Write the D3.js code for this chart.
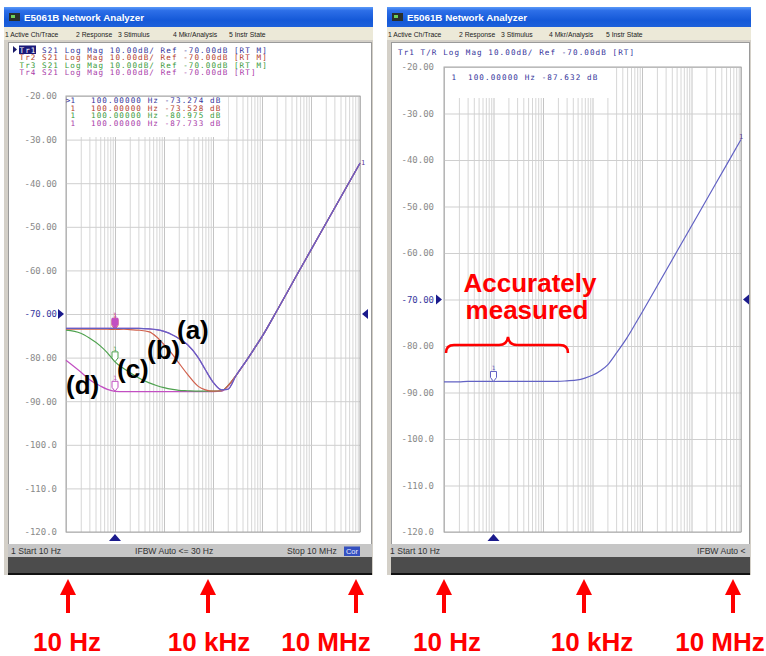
<!DOCTYPE html>
<html>
<head>
<meta charset="utf-8">
<script src="https://cdn.jsdelivr.net/npm/d3@7"></script>
<style>
body { margin: 0; background: #fff; }
text { font-family: "Liberation Sans", Arial, sans-serif; }
.mono { font-family: "DejaVu Sans Mono", "Liberation Mono", monospace; }
</style>
</head>
<body>
<svg id="chart" width="766" height="656"></svg>
<script>
// Frequency points (Hz)
const freqs = [10, 20, 30, 50, 70, 100, 150, 200, 300, 500, 700, 1e3, 1.5e3, 2e3, 3e3, 5e3, 7e3,
  1e4, 1.5e4, 2e4, 3e4, 5e4, 7e4, 1e5, 2e5, 5e5, 1e6, 2e6, 5e6, 1e7];

// Left screen, S21 traces (dB)
const traceA = [-73.3, -73.3, -73.3, -73.3, -73.3, -73.27, -73.3, -73.3, -73.3, -73.4, -73.6, -74.0, -74.8, -75.6, -77.0, -80.0, -82.8,
  -85.6, -87.4, -87.3, -84.0, -80.4, -77.9, -75.2, -69.3, -61.3, -55.3, -49.3, -41.4, -35.4];
const traceB = [-73.5, -73.5, -73.5, -73.5, -73.5, -73.53, -73.5, -73.6, -73.7, -74.1, -75.2, -77.0, -79.3, -81.2, -83.8, -86.6, -87.4,
  -87.7, -87.6, -86.5, -84.0, -80.4, -77.9, -75.2, -69.3, -61.3, -55.3, -49.3, -41.4, -35.4];
const traceC = [-73.7, -74.4, -75.5, -77.3, -78.9, -80.98, -82.5, -83.4, -84.6, -85.8, -86.4, -86.9, -87.3, -87.5, -87.6, -87.7, -87.7,
  -87.7, -87.6, -86.5, -84.0, -80.4, -77.9, -75.2, -69.3, -61.3, -55.3, -49.3, -41.4, -35.4];
const traceD = [-80.6, -83.3, -85.0, -86.5, -87.3, -87.73, -87.8, -87.8, -87.8, -87.8, -87.8, -87.8, -87.8, -87.8, -87.8, -87.8, -87.8,
  -87.8, -87.7, -86.6, -84.0, -80.4, -77.9, -75.2, -69.3, -61.3, -55.3, -49.3, -41.4, -35.4];

// Right screen, T/R trace (dB)
const traceR = [-87.7, -87.7, -87.6, -87.6, -87.6, -87.63, -87.6, -87.6, -87.6, -87.6, -87.6, -87.6, -87.6, -87.6, -87.5, -87.3, -86.9,
  -86.3, -85.2, -84.1, -81.6, -78.2, -75.6, -72.8, -67.2, -59.8, -54.2, -48.6, -41.2, -35.6];

const yTicks = [-20, -30, -40, -50, -60, -70, -80, -90, -100, -110, -120];
const yTickLabels = ["-20.00", "-30.00", "-40.00", "-50.00", "-60.00", "-70.00", "-80.00", "-90.00", "-100.0", "-110.0", "-120.0"];
const menuItems = ["1 Active Ch/Trace", "2 Response", "3 Stimulus", "4 Mkr/Analysis", "5 Instr State"];
const traceNames = ["Tr1", "Tr2", "Tr3", "Tr4"];
const leftHeader = [" S21 Log Mag 10.00dB/ Ref -70.00dB [RT M]", " S21 Log Mag 10.00dB/ Ref -70.00dB [RT M]",
  " S21 Log Mag 10.00dB/ Ref -70.00dB [RT M]", " S21 Log Mag 10.00dB/ Ref -70.00dB [RT]"];
const leftMarkers = [">1", "1", "1", "1"];
const leftMarkerVals = ["100.00000 Hz -73.274 dB", "100.00000 Hz -73.528 dB", "100.00000 Hz -80.975 dB", "100.00000 Hz -87.733 dB"];
const freqLabels = ["10 Hz", "10 kHz", "10 MHz"];

const traceColors = ["#6262c4", "#d0604c", "#4fa24f", "#c24fc2"];
const textColors = ["#33339a", "#b23a2a", "#3a9a3a", "#a83aa8"];
const monoSize = 7.6;
const charW = 5.62; // screen font pitch

const svg = d3.select("#chart");
const defs = svg.append("defs");
const grad = defs.append("linearGradient").attr("id", "tb")
  .attr("x1", 0).attr("y1", 0).attr("x2", 0).attr("y2", 1);
grad.append("stop").attr("offset", "0%").attr("stop-color", "#5a9af8");
grad.append("stop").attr("offset", "18%").attr("stop-color", "#2d6fe8");
grad.append("stop").attr("offset", "65%").attr("stop-color", "#1559d8");
grad.append("stop").attr("offset", "100%").attr("stop-color", "#1d60da");

// monospaced screen text, stretched to the analyzer's pitch
function mono(g, x, y, str, color) {
  return g.append("text").attr("class", "mono").attr("x", x).attr("y", y)
    .attr("font-size", monoSize).attr("fill", color)
    .attr("textLength", str.length * charW).attr("lengthAdjust", "spacing")
    .text(str);
}

// draw the analyzer window chrome
function drawWindow(w) {
  const g = svg.append("g");
  const wd = w.x1 - w.x0;
  g.append("rect").attr("x", w.x0).attr("y", 7).attr("width", wd).attr("height", 20).attr("fill", "url(#tb)");
  g.append("rect").attr("x", w.x0 + 5).attr("y", 13).attr("width", 11).attr("height", 8).attr("fill", "#2a2f2a");
  g.append("rect").attr("x", w.x0 + 7).attr("y", 15).attr("width", 4).attr("height", 3).attr("fill", "#6ccf5a");
  g.append("text").attr("x", w.x0 + 20).attr("y", 21).attr("fill", "#fff")
    .attr("font-weight", "bold").attr("font-size", 9.8).text("E5061B Network Analyzer");

  g.append("rect").attr("x", w.x0).attr("y", 27).attr("width", wd).attr("height", 13).attr("fill", "#ece9d8");
  g.selectAll(".menu").data(menuItems).join("text")
    .attr("x", (d, i) => w.x0 + w.menuX[i]).attr("y", 36.5)
    .attr("font-size", 6.8).attr("fill", "#222").text(d => d);

  g.append("rect").attr("x", w.x0).attr("y", 40).attr("width", wd).attr("height", 535).attr("fill", "#d4d0c8");
  g.append("rect").attr("x", w.x0 + 4.5).attr("y", 42.5).attr("width", wd - 6).attr("height", 502)
    .attr("fill", "#fff").attr("stroke", "#9a9a9a");
  g.append("rect").attr("x", w.x0 + 4).attr("y", 544).attr("width", wd - 5).attr("height", 13).attr("fill", "#c6c6c6");
  g.append("rect").attr("x", w.x0 + 4).attr("y", 557).attr("width", wd - 5).attr("height", 17).attr("fill", "#4c4c4c");
  g.append("rect").attr("x", w.x0 + 4).attr("y", 573).attr("width", wd - 5).attr("height", 2).attr("fill", "#111");
  return g;
}

// draw one measurement screen
function drawScreen(w) {
  const g = svg.append("g");
  const x = d3.scaleLog().domain([10, 1e7]).range([w.l, w.r]);
  const y = d3.scaleLinear().domain([-120, -20]).range([w.b, w.t]);

  // vertical log grid
  g.append("g").attr("transform", `translate(0,${w.b})`)
    .call(d3.axisBottom(x).tickValues(x.ticks()).tickSize(-(w.b - w.t)).tickFormat(""))
    .call(a => a.select(".domain").remove())
    .call(a => a.selectAll("line").attr("stroke", d => Math.log10(d) % 1 === 0 ? "#c4c4c4" : "#d6d6d6").attr("stroke-width", 1));

  // horizontal grid
  g.append("g").attr("transform", `translate(${w.l},0)`)
    .call(d3.axisLeft(y).tickValues(yTicks).tickSize(-(w.r - w.l)).tickFormat(""))
    .call(a => a.select(".domain").remove())
    .call(a => a.selectAll("line").attr("stroke", "#cfcfcf"));

  g.append("rect").attr("x", w.l).attr("y", w.t).attr("width", w.r - w.l).attr("height", w.b - w.t)
    .attr("fill", "none").attr("stroke", "#a8a8a8");

  // y labels
  g.append("g").attr("transform", `translate(${w.l},0)`)
    .call(d3.axisLeft(y).tickValues(yTicks).tickSize(0).tickPadding(w.pad).tickFormat((d, i) => yTickLabels[i]))
    .call(a => a.select(".domain").remove())
    .call(a => a.selectAll("text").attr("class", "mono").attr("font-size", 9)
      .attr("fill", d => d === -70 ? "#3a3aa0" : "#8a8a8a"));

  // reference triangles
  const yr = y(-70);
  g.append("path").attr("d", `M${w.l - 8},${yr - 5}L${w.l - 2},${yr}L${w.l - 8},${yr + 5}Z`).attr("fill", "#1a1a8c");
  g.append("path").attr("d", `M${w.r + 8},${yr - 5}L${w.r + 2},${yr}L${w.r + 8},${yr + 5}Z`).attr("fill", "#1a1a8c");
  // stimulus marker
  const xm = x(100);
  g.append("path").attr("d", `M${xm - 6},${w.b + 9}L${xm},${w.b + 2}L${xm + 6},${w.b + 9}Z`).attr("fill", "#1a1a8c");

  return {g, x, y};
}

const line = (x, y, vals) => d3.line().x((d, i) => x(freqs[i])).y(d => y(d)).curve(d3.curveMonotoneX)(vals);

function drawTrace(s, vals, color, filled) {
  s.g.append("path").attr("d", line(s.x, s.y, vals)).attr("fill", "none")
    .attr("stroke", color).attr("stroke-width", 1.2);
  const mx = s.x(freqs[5]), my = s.y(vals[5]);
  s.g.append("path").attr("d", `M${mx},${my}L${mx - 3},${my - 4}L${mx - 3},${my - 10}L${mx + 3},${my - 10}L${mx + 3},${my - 4}Z`)
    .attr("fill", filled ? color : "#fff").attr("stroke", color).attr("stroke-width", 1);
  s.g.append("text").attr("class", "mono").attr("x", mx).attr("y", my - 11).attr("text-anchor", "middle")
    .attr("font-size", 6).attr("fill", color).text("1");
}

// ---------- left window ----------
const wl = drawWindow({x0: 4, x1: 373, menuX: [1, 72, 114, 169, 225]});
const sl = drawScreen({l: 66, r: 360, t: 96, b: 532, pad: 9});

// marker table
sl.g.append("rect").attr("x", 67).attr("y", 97).attr("width", 161).attr("height", 40).attr("fill", "#fff");
leftMarkerVals.forEach((v, i) => {
  const yy = 103 + i * 7.7;
  sl.g.append("text").attr("class", "mono").attr("x", 75).attr("y", yy).attr("text-anchor", "end")
    .attr("font-size", monoSize).attr("fill", textColors[i]).text(leftMarkers[i]);
  mono(sl.g, 91, yy, v, textColors[i]);
});

// header lines; active trace name shown inverted
wl.append("path").attr("d", "M13,46L17,49.5L13,53Z").attr("fill", "#1a1a6a");
wl.append("rect").attr("x", 19).attr("y", 45.5).attr("width", 17).attr("height", 8.5).attr("fill", "#1a1a7a");
leftHeader.forEach((t, i) => {
  const full = traceNames[i] + t;
  const tx = wl.append("text").attr("class", "mono").attr("x", 19.5).attr("y", 53 + i * 7.3)
    .attr("font-size", monoSize).attr("fill", textColors[i])
    .attr("textLength", full.length * charW).attr("lengthAdjust", "spacing");
  tx.append("tspan").attr("fill", i === 0 ? "#fff" : textColors[i]).text(traceNames[i]);
  tx.append("tspan").text(t);
});

// traces, drawn back to front
drawTrace(sl, traceD, traceColors[3], false);
drawTrace(sl, traceC, traceColors[2], false);
drawTrace(sl, traceB, traceColors[1], false);
drawTrace(sl, traceA, traceColors[3], true);
sl.g.append("path").attr("d", line(sl.x, sl.y, traceA)).attr("fill", "none")
  .attr("stroke", traceColors[0]).attr("stroke-width", 1.2);
sl.g.append("text").attr("class", "mono").attr("x", sl.x(1e7) + 1).attr("y", sl.y(traceA[29]) + 2)
  .attr("font-size", 7).attr("fill", "#5a3a9a").text("1");

// status bar
wl.append("text").attr("x", 11).attr("y", 554).attr("font-size", 8.6).attr("fill", "#333").text("1  Start 10 Hz");
wl.append("text").attr("x", 135).attr("y", 554).attr("font-size", 8.6).attr("fill", "#333").text("IFBW Auto <= 30 Hz");
wl.append("text").attr("x", 287).attr("y", 554).attr("font-size", 8.6).attr("fill", "#333").text("Stop 10 MHz");
wl.append("rect").attr("x", 344).attr("y", 546.5).attr("width", 16).attr("height", 9.5).attr("fill", "#3450c0");
wl.append("text").attr("x", 352).attr("y", 554).attr("text-anchor", "middle").attr("font-size", 7.5).attr("fill", "#e8ecff").text("Cor");

// (a)-(d) labels
const labelPos = [[177, 339], [147, 359], [117, 378], [66, 394]];
["(a)", "(b)", "(c)", "(d)"].forEach((t, i) => {
  svg.append("text").attr("x", labelPos[i][0]).attr("y", labelPos[i][1])
    .attr("font-size", 26).attr("font-weight", "bold").attr("fill", "#000").text(t);
});

// ---------- right window ----------
const wr = drawWindow({x0: 387, x1: 751, menuX: [1, 72, 114, 162, 219]});
const sr = drawScreen({l: 444, r: 741, t: 67, b: 532, pad: 10});

sr.g.append("rect").attr("x", 445).attr("y", 68).attr("width", 166).attr("height", 30).attr("fill", "#fff");
sr.g.append("text").attr("class", "mono").attr("x", 456).attr("y", 80).attr("text-anchor", "end")
  .attr("font-size", monoSize).attr("fill", textColors[0]).text("1");
mono(sr.g, 468, 80, "100.00000 Hz -87.632 dB", textColors[0]);
mono(wr, 398, 55, "Tr1 T/R Log Mag 10.00dB/ Ref -70.00dB [RT]", textColors[0]);

drawTrace(sr, traceR, traceColors[0], false);
sr.g.append("text").attr("class", "mono").attr("x", sr.x(1e7) - 2).attr("y", sr.y(traceR[29]) - 1)
  .attr("font-size", 7).attr("fill", "#5a3a9a").text("1");

wr.append("text").attr("x", 390).attr("y", 554).attr("font-size", 8.6).attr("fill", "#333").text("1  Start 10 Hz");
wr.append("text").attr("x", 697).attr("y", 554).attr("font-size", 8.6).attr("fill", "#333").text("IFBW Auto <");

// "Accurately measured" note with brace
svg.append("text").attr("x", 530).attr("y", 292).attr("text-anchor", "middle")
  .attr("font-size", 26).attr("font-weight", "bold").attr("fill", "#f00").text("Accurately");
svg.append("text").attr("x", 527).attr("y", 319).attr("text-anchor", "middle")
  .attr("font-size", 26).attr("font-weight", "bold").attr("fill", "#f00").text("measured");
svg.append("path")
  .attr("d", "M446,353 Q446,345 454,345 L499,345 Q507,345 508,337 Q509,345 517,345 L560,345 Q568,345 568,353")
  .attr("fill", "none").attr("stroke", "#f00").attr("stroke-width", 2.5);

// ---------- frequency arrows under both screens ----------
const arrowX = [[68, 208, 356], [444, 584, 733]];
const labelX = [[67, 209, 326], [447, 592, 720]];
arrowX.forEach((xs, k) => {
  xs.forEach((ax, i) => {
    svg.append("rect").attr("x", ax - 2).attr("y", 592).attr("width", 4).attr("height", 21).attr("fill", "#f00");
    svg.append("path").attr("d", `M${ax - 8},${595}L${ax},${579}L${ax + 8},${595}Z`).attr("fill", "#f00");
    svg.append("text").attr("x", labelX[k][i]).attr("y", 651).attr("text-anchor", "middle")
      .attr("font-size", 26).attr("font-weight", "bold").attr("fill", "#f00").text(freqLabels[i]);
  });
});
</script>
</body>
</html>
